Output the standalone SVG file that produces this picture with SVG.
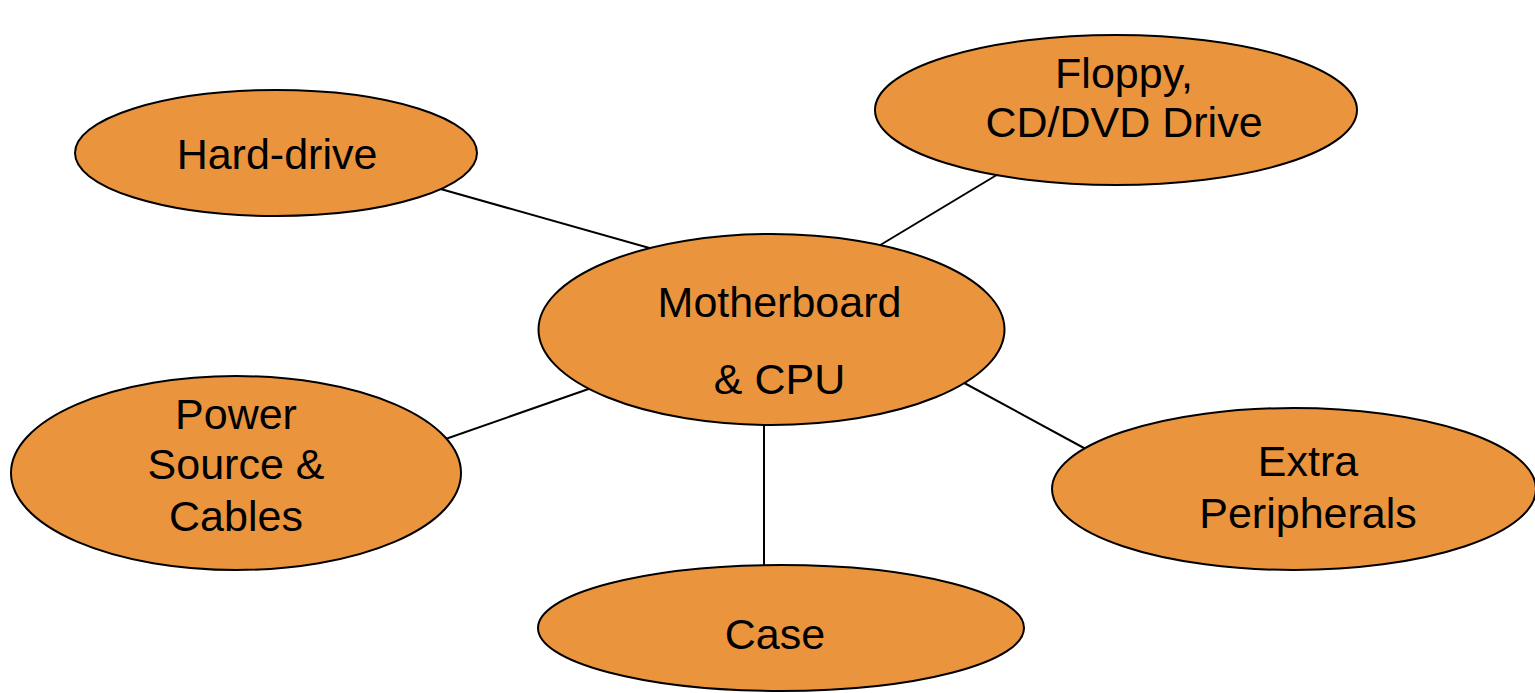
<svg xmlns="http://www.w3.org/2000/svg" width="1535" height="693" viewBox="0 0 1535 693">
<style>
.n{fill:#EA943E;stroke:#000;stroke-width:2}
.e{stroke:#000;stroke-width:2;fill:none}
text{font-family:"Liberation Sans",Arial,sans-serif;font-size:43px;fill:#000;text-anchor:middle}
</style>
<rect width="1535" height="693" fill="#fff"/>
<g id="connectors">
<line class="e" x1="430" y1="186" x2="660" y2="251"/>
<line class="e" x1="1005" y1="170" x2="872" y2="250"/>
<line class="e" x1="437" y1="442" x2="600" y2="385"/>
<line class="e" x1="955" y1="378" x2="1095" y2="454"/>
<line class="e" x1="764" y1="420" x2="764" y2="572"/>
</g>
<g id="hard-drive">
<ellipse class="n" cx="276" cy="153" rx="201" ry="63"/>
<text x="277" y="169">Hard-drive</text>
</g>
<g id="floppy">
<ellipse class="n" cx="1116" cy="110" rx="241" ry="75"/>
<text x="1124" y="88">Floppy,</text>
<text x="1124" y="137">CD/DVD Drive</text>
</g>
<g id="motherboard">
<ellipse class="n" cx="771.5" cy="329.5" rx="233" ry="95.5"/>
<text x="779.5" y="317">Motherboard</text>
<text x="779.5" y="394">&amp; CPU</text>
</g>
<g id="power">
<ellipse class="n" cx="236" cy="473" rx="225" ry="97"/>
<text x="236" y="429">Power</text>
<text x="236" y="479">Source &amp;</text>
<text x="236" y="531">Cables</text>
</g>
<g id="extra">
<ellipse class="n" cx="1294" cy="489" rx="242" ry="81"/>
<text x="1308" y="476">Extra</text>
<text x="1308" y="528">Peripherals</text>
</g>
<g id="case">
<ellipse class="n" cx="781" cy="628" rx="243" ry="63"/>
<text x="775" y="649">Case</text>
</g>
</svg>
